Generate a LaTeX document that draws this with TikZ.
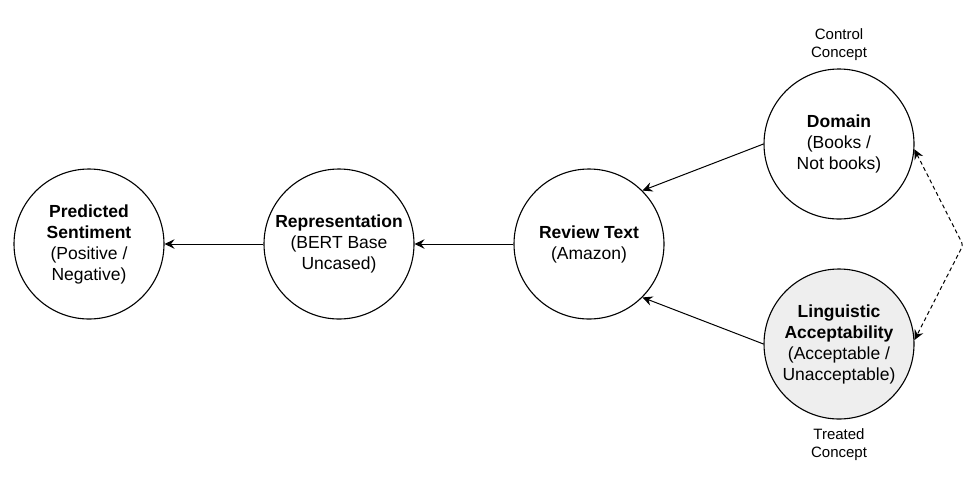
\documentclass[tikz,border=0pt]{standalone}
\usepackage{fontspec}
\setmainfont{Liberation Sans}
\usetikzlibrary{arrows.meta}
\definecolor{treatfill}{HTML}{EEEEEE}
\begin{document}
\begin{tikzpicture}[x=1pt,y=-1pt,
  concept/.style={circle,draw=black,line width=1.1pt,minimum size=150pt,inner sep=0pt,align=center,
    font=\fontsize{17.5}{21}\selectfont},
  tag/.style={align=center,font=\fontsize{15}{18}\selectfont,inner sep=0pt},
  conn/.style={line width=1pt,-{Stealth[length=10pt,width=9.5pt,inset=3.5pt]}},
  dconn/.style={line width=1pt,dash pattern=on 4pt off 3pt,rounded corners=3pt,
    {Stealth[length=10pt,width=9.5pt,inset=3.5pt]}-{Stealth[length=10pt,width=9.5pt,inset=3.5pt]}}]
\useasboundingbox (0,0) rectangle (973,491);
\node[concept] (pred) at (89,244) {\textbf{Predicted}\\\textbf{Sentiment}\\(Positive /\\Negative)};
\node[concept] (rep) at (339,244) {\textbf{Representation}\\(BERT Base\\Uncased)};
\node[concept] (rev) at (589,244) {\textbf{Review Text}\\(Amazon)};
\node[concept] (dom) at (839,144) {\textbf{Domain}\\(Books /\\Not books)};
\node[concept,fill=treatfill] (ling) at (839,344) {\textbf{Linguistic}\\\textbf{Acceptability}\\(Acceptable /\\Unacceptable)};
\node[tag] (ctl) at (839,45) {Control\\Concept};
\node[tag] (trt) at (839,445) {Treated\\Concept};
\coordinate (mid) at (963,245);
\draw[conn] (rep) -- (pred);
\draw[conn] (rev) -- (rep);
\draw[conn] (dom.west) -- (rev.45);
\draw[conn] (ling.west) -- (rev.-45);
\draw[dconn] (dom.-4) -- (mid) -- (ling.3);
\end{tikzpicture}
\end{document}
